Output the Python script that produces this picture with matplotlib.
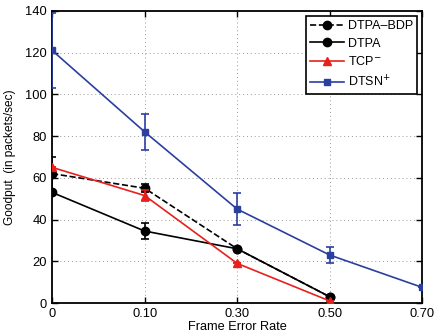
import matplotlib
matplotlib.use('Agg')
import matplotlib.pyplot as plt

plt.rcParams['font.family'] = ['Liberation Sans', 'DejaVu Sans']

fer_labels = ['0', '0.10', '0.30', '0.50', '0.70']

# DTPA-BDP (dashed black)
bdp_y = [62, 55, 26, 3]
bdp_err = [8, 2, 0, 0]
# DTPA (solid black)
dtpa_y = [53, 34.5, 26, 3]
dtpa_err = [0, 4, 0, 0]
# TCP-
tcp_y = [65, 51.5, 19, 1]
tcp_err = [0, 2.5, 0, 0]
# DTSN+
dtsn_y = [121, 82, 45, 23, 7.5]
dtsn_err = [18, 8.5, 7.5, 4, 0]

fig = plt.figure(figsize=(4.34, 3.36), dpi=100)
ax = fig.add_axes([0.12, 0.098, 0.853, 0.87])

x4 = list(range(4))
x5 = list(range(5))

series = [
    (x4, bdp_y, bdp_err, 'black', '--', 'o', 6, 'DTPA\u2013BDP', 3),
    (x4, dtpa_y, dtpa_err, 'black', '-', 'o', 6, 'DTPA', 3),
    (x4, tcp_y, tcp_err, '#e8201c', '-', '^', 6, 'TCP$^{-}$', 4),
    (x5, dtsn_y, dtsn_err, '#2a3f9f', '-', 's', 5, 'DTSN$^{+}$', 3),
]
for xs, ys, es, c, ls, mk, ms, lab, z in series:
    ax.plot(xs, ys, color=c, ls=ls, marker=mk, ms=ms, lw=1.2, label=lab, zorder=z)
    ax.errorbar(xs, ys, yerr=es, fmt='none', ecolor=c, elinewidth=1.2,
                capsize=3, capthick=1.2, zorder=z)

ax.set_xlim(0, 4)
ax.set_ylim(0, 140)
ax.set_xticks(x5)
ax.set_xticklabels(fer_labels)
ax.set_yticks(range(0, 141, 20))
ax.grid(True, ls=(0, (1, 3)), color='#999999', lw=0.7)
ax.tick_params(direction='in', top=True, right=True, labelsize=9.3, length=4, width=1)
for s in ax.spines.values():
    s.set_linewidth(1.3)

ax.set_xlabel('Frame Error Rate', fontsize=9.2, labelpad=1)
ax.set_ylabel('Goodput  (in packets/sec)', fontsize=8.6, labelpad=7)

leg = ax.legend(loc='upper right', fontsize=9, frameon=True, fancybox=False,
                edgecolor='black', handlelength=2.7, borderaxespad=0.4,
                labelspacing=0.45, handletextpad=0.3, borderpad=0.35)
leg.get_frame().set_linewidth(1.2)
leg.get_frame().set_alpha(1)

fig.savefig('out.png', dpi=100)
